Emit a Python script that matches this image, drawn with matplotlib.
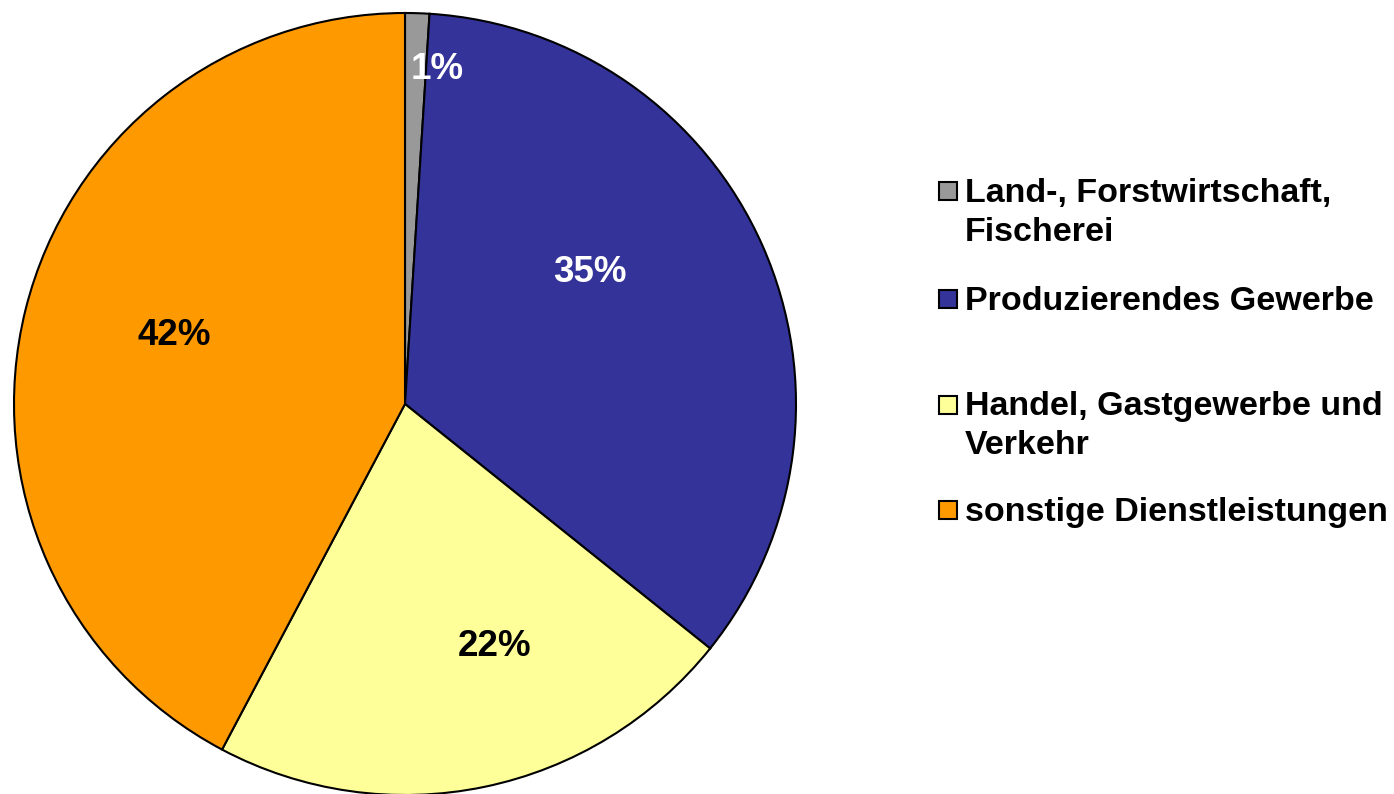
import matplotlib
matplotlib.use("Agg")
import matplotlib.pyplot as plt
from matplotlib.patches import Rectangle

categories = ["Land-, Forstwirtschaft,\nFischerei", "Produzierendes Gewerbe",
              "Handel, Gastgewerbe und\nVerkehr", "sonstige Dienstleistungen"]
values = [1.0, 34.75, 22.0, 42.25]
pct_labels = ["1%", "35%", "22%", "42%"]
colors = ["#999999", "#333399", "#FFFF99", "#FF9900"]
label_colors = ["white", "white", "black", "black"]

plt.rcParams['font.family'] = ['Liberation Sans', 'DejaVu Sans']
plt.rcParams['font.weight'] = 'bold'

W, H = 1394, 794
fig = plt.figure(figsize=(W / 100, H / 100), dpi=100)
cx, cy, r = 405, 390, 391
ax = fig.add_axes([(cx - r) / W, (cy - r) / H, 2 * r / W, 2 * r / H])
wedges, _ = ax.pie(values, colors=colors, startangle=90, counterclock=False,
                   radius=1.0, wedgeprops=dict(edgecolor="black", linewidth=1.5))
for w in wedges:
    w.set_clip_on(False)
ax.set_xlim(-1, 1)
ax.set_ylim(-1, 1)
ax.set_aspect("equal")
ax.axis("off")

# label positions (in radius units)
label_pos = [(0.082, 0.856), (0.474, 0.336), (0.229, -0.621), (-0.591, 0.174)]
for (x, y), t, c in zip(label_pos, pct_labels, label_colors):
    ax.text(x, y, t, ha="center", va="center", fontsize=26.5, fontweight="bold", color=c)

# legend drawn manually
marker_y = [191, 299, 404.5, 510]
for yc, lab, col in zip(marker_y, categories, colors):
    s = 18
    fig.patches.append(Rectangle(((939) / W, (H - yc - s / 2) / H), s / W, s / H,
                                 transform=fig.transFigure, facecolor=col,
                                 edgecolor="black", linewidth=1.5))
    fig.text(965 / W, (H - yc + 13) / H, lab, ha="left", va="top", fontsize=24.5,
             fontweight="bold", color="black", linespacing=1.32)

fig.savefig("out.png", dpi=100)
